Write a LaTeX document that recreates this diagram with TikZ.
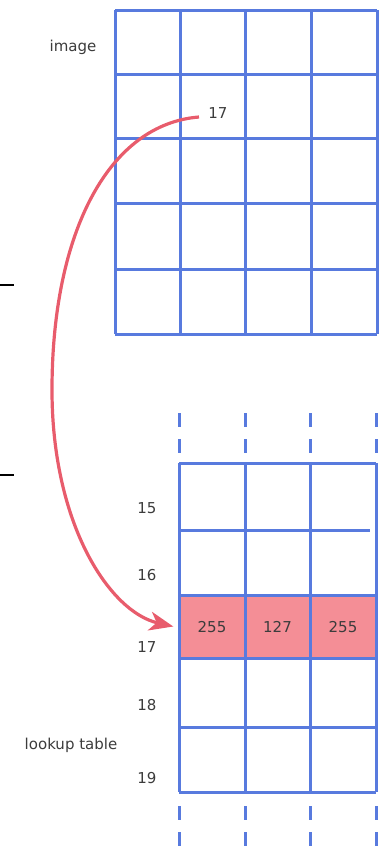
\documentclass[tikz,border=0pt]{standalone}
\usepackage{fontspec}
\setmainfont{DejaVu Sans}
\usetikzlibrary{arrows.meta}
\definecolor{gridblue}{RGB}{88,122,222}
\definecolor{hlpink}{RGB}{244,142,150}
\definecolor{arrpink}{RGB}{232,92,108}
\definecolor{txt}{RGB}{60,60,60}
\begin{document}
\begin{tikzpicture}[x=1pt,y=-1pt,
  gridline/.style={draw=gridblue,line width=3pt},
  dashline/.style={draw=gridblue,line width=3pt,dash pattern=on 14pt off 12pt},
  lbl/.style={font=\fontsize{15}{17}\selectfont,text=txt,inner sep=0pt},
  hlcell/.style={fill=hlpink,draw=none,minimum width=65pt,minimum height=63pt,inner sep=0pt,text height=11pt,text depth=0pt,font=\fontsize{15}{17}\selectfont,text=txt},
  linkarrow/.style={draw=arrpink,line width=3.2pt,-{Stealth[length=24pt,width=19pt,inset=7pt]}}]
\useasboundingbox (0,0) rectangle (385,852);
% highlighted row of the lookup table
\node[hlcell] (c1) at (212,626.5) {255};
\node[hlcell] (c2) at (277.5,626.5) {127};
\node[hlcell] (c3) at (343,626.5) {255};
% image grid
\foreach \x in {115,180,245,311,377} \draw[gridline] (\x,10) -- (\x,334);
\foreach \y in {10,74,138,203,269,334} \draw[gridline] (115,\y) -- (377,\y);
% lookup table grid
\foreach \x in {179,245,310,376} {
  \draw[gridline] (\x,463) -- (\x,792);
  \draw[dashline] (\x,413) -- (\x,463);
  \draw[dashline] (\x,806) -- (\x,852);
}
\foreach \y in {463,595,658,727,792} \draw[gridline] (179,\y) -- (376,\y);
\draw[gridline] (179,530) -- (370,530);
% short black marks at left
\draw[black,line width=1.5pt] (0,285) -- (14,285);
\draw[black,line width=1.5pt] (0,475) -- (14,475);
% labels
\node[lbl] (imglbl) at (73,47) {image};
\node[lbl] (val) at (218,113) {17};
\node[lbl] (r15) at (147,508) {15};
\node[lbl] (r16) at (147,575) {16};
\node[lbl] (r17) at (147,647) {17};
\node[lbl] (r18) at (147,705) {18};
\node[lbl] (r19) at (147,778) {19};
\node[lbl] (lut) at (71,745) {lookup table};
% arrow
\coordinate (src) at (199,117);
\coordinate (mid) at (52,390);
\coordinate (dst) at ([xshift=-6pt]c1.west);
\draw[linkarrow] (src) .. controls (110,124) and (52,230) .. (mid)
  .. controls (52,525) and (110,612) .. (dst);
\end{tikzpicture}
\end{document}
